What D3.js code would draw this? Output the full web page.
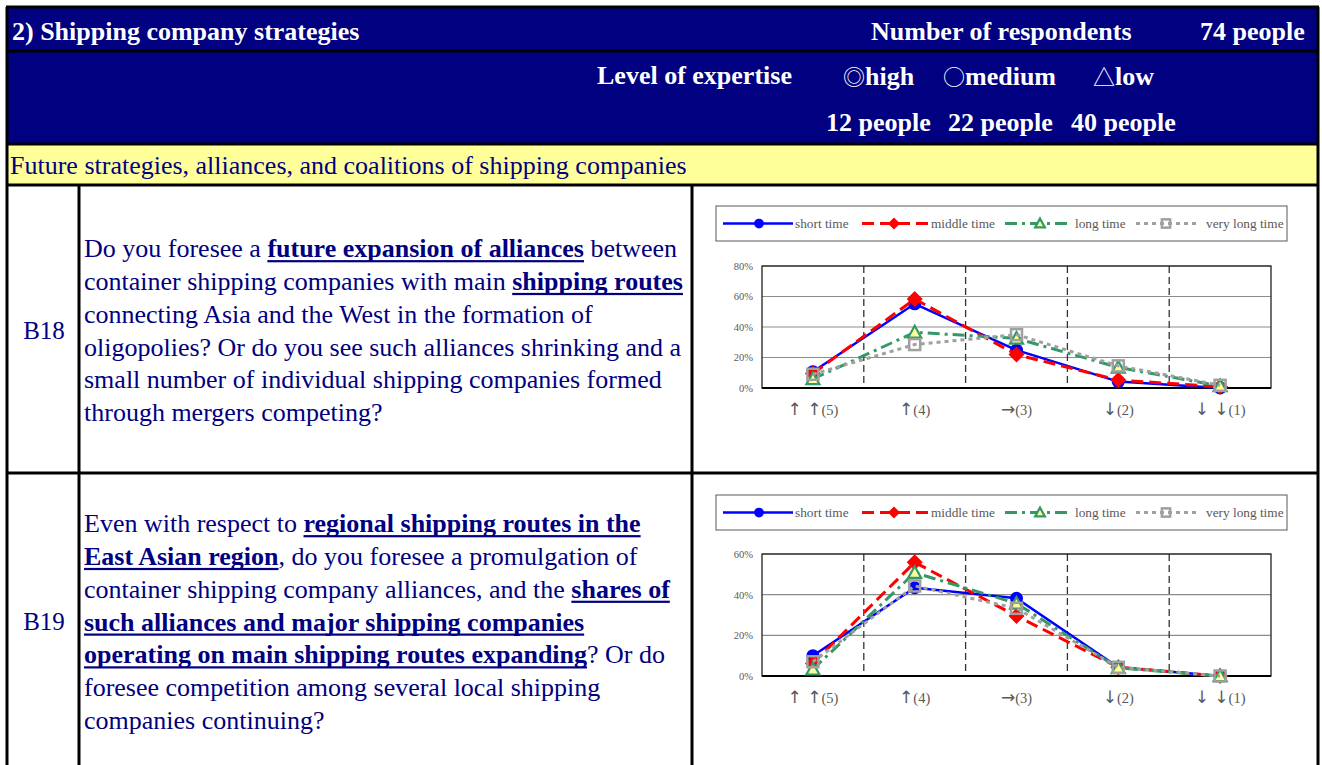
<!DOCTYPE html>
<html>
<head>
<meta charset="utf-8">
<title>Shipping company strategies</title>
<script src="https://d3js.org/d3.v7.min.js"></script>
<style>
body { margin: 0; background: #fff; }
svg text { font-family: "Liberation Serif", "Times New Roman", serif; }
.axis path, .axis line { display: none; }
.axis text { fill: #595959; font-family: "Liberation Serif", serif; }
.sym { font-family: "Noto Sans CJK JP", sans-serif; font-weight: normal; }
.arrow { font-family: "DejaVu Sans", sans-serif; fill: #595959; }
</style>
</head>
<body>
<div id="page"></div>
<script>
var W = 1322, H = 765;
var navy = "#000080", yellow = "#ffff99";

// categories / series
var categories = ["↑ ↑(5)", "↑(4)", "→(3)", "↓(2)", "↓ ↓(1)"];
var seriesNames = ["short time", "middle time", "long time", "very long time"];

// B18 (% of respondents)
var b18Short    = [10.7, 55.2, 24.8, 4.2, 0];
var b18Middle   = [9.5, 58.3, 21.9, 5.2, 0.8];
var b18Long     = [5.9, 36.5, 32.5, 13.5, 1.3];
var b18VeryLong = [9.0, 28.5, 35.0, 14.5, 1.8];

// B19 (% of respondents)
var b19Short    = [10.0, 43.4, 38.2, 4.3, 0];
var b19Middle   = [6.2, 55.9, 29.5, 4.3, 0];
var b19Long     = [3.3, 50.8, 35.7, 4.0, 0];
var b19VeryLong = [7.0, 44.3, 33.3, 4.3, 0];

// question texts, one entry per line, [text, bold]
var b18Lines = [
  [["Do you foresee a ", 0], ["future expansion of alliances", 1], [" between", 0]],
  [["container shipping companies with main ", 0], ["shipping routes", 1]],
  [["connecting Asia and the West in the formation of", 0]],
  [["oligopolies? Or do you see such alliances shrinking and a", 0]],
  [["small number of individual shipping companies formed", 0]],
  [["through mergers competing?", 0]]
];
var b19Lines = [
  [["Even with respect to ", 0], ["regional shipping routes in the", 1]],
  [["East Asian region", 1], [", do you foresee a promulgation of", 0]],
  [["container shipping company alliances, and the ", 0], ["shares of", 1]],
  [["such alliances and major shipping companies", 1]],
  [["operating on main shipping routes expanding", 1], ["? Or do", 0]],
  [["foresee competition among several local shipping", 0]],
  [["companies continuing?", 0]]
];

var styles = [
  {color: "#0000ff", width: 2.5, dash: null, symbol: "circle"},
  {color: "#ff0000", width: 3, dash: "12,6", symbol: "diamond"},
  {color: "#339966", width: 3, dash: "12,5,3,5", symbol: "triangle"},
  {color: "#a0a0a0", width: 3, dash: "4,4", symbol: "square"}
];

var svg = d3.select("#page").append("svg").attr("width", W).attr("height", H);

// table backgrounds
svg.append("rect").attr("x", 7).attr("y", 7).attr("width", 1311).attr("height", 137).attr("fill", navy);
svg.append("rect").attr("x", 7).attr("y", 144).attr("width", 1311).attr("height", 41).attr("fill", yellow);

// grid lines of the table
var hLines = [7, 51, 144, 185, 473];
hLines.forEach(function (y) {
  svg.append("line").attr("x1", 6).attr("x2", 1319).attr("y1", y).attr("y2", y)
    .attr("stroke", "#000").attr("stroke-width", 3);
});
[[7, 7], [1318, 7], [79, 185], [692, 185]].forEach(function (v) {
  svg.append("line").attr("x1", v[0]).attr("x2", v[0]).attr("y1", v[1]).attr("y2", H)
    .attr("stroke", "#000").attr("stroke-width", 3);
});

function label(txt, x, y, opt) {
  opt = opt || {};
  return svg.append("text").attr("x", x).attr("y", y).attr("dy", "0.35em")
    .attr("font-size", opt.size || 26)
    .attr("font-weight", opt.bold ? "bold" : "normal")
    .attr("fill", opt.fill || navy)
    .attr("text-anchor", opt.anchor || "start")
    .text(txt);
}

// header
var hd = {bold: 1, fill: "#fff", size: 26};
label("2) Shipping company strategies", 12, 31, hd);
label("Number of respondents", 871, 31, hd);
label("74 people", 1200, 31, hd);
label("Level of expertise", 597, 75, hd);
[["◎", "high", 843], ["○", "medium", 943], ["△", "low", 1093]].forEach(function (e) {
  var t = label("", e[2], 76, hd);
  t.append("tspan").attr("class", "sym").attr("font-size", 22).text(e[0]);
  t.append("tspan").text(e[1]);
});
label("12 people", 826, 122, hd);
label("22 people", 948, 122, hd);
label("40 people", 1071, 122, hd);
label("Future strategies, alliances, and coalitions of shipping companies", 10, 165, {size: 26});

label("B18", 44, 330, {size: 25, anchor: "middle"});
label("B19", 44, 621, {size: 25, anchor: "middle"});

function question(lines, y0) {
  var lh = 32.8;
  lines.forEach(function (segs, i) {
    var t = svg.append("text").attr("x", 84).attr("y", y0 + i * lh).attr("dy", "0.35em")
      .attr("font-size", 26).attr("fill", navy);
    segs.forEach(function (s) {
      var ts = t.append("tspan").attr("font-weight", s[1] ? "bold" : "normal").text(s[0]);
      if (s[1]) {
        var node = ts.node();
        var p = node.getStartPositionOfChar(0);
        var w = node.getComputedTextLength();
        svg.append("rect").attr("x", p.x).attr("y", p.y + 3).attr("width", w).attr("height", 2.2).attr("fill", navy);
      }
    });
  });
}
question(b18Lines, 248);
question(b19Lines, 523);

function marker(g, type, x, y, scale) {
  scale = scale || 1;
  if (type === "circle") {
    g.append("circle").attr("cx", x).attr("cy", y).attr("r", 6.5 * scale).attr("fill", styles[0].color);
  } else if (type === "diamond") {
    var r = 8 * scale;
    g.append("path").attr("d", "M" + x + "," + (y - r) + "L" + (x + r) + "," + y + "L" + x + "," + (y + r) + "L" + (x - r) + "," + y + "Z")
      .attr("fill", styles[1].color);
  } else if (type === "triangle") {
    var a = 6.5 * scale;
    g.append("path").attr("d", "M" + x + "," + (y - a) + "L" + (x + a) + "," + (y + a * 0.8) + "L" + (x - a) + "," + (y + a * 0.8) + "Z")
      .attr("fill", "#ffff99").attr("stroke", styles[2].color).attr("stroke-width", 2.2);
  } else {
    var h = 5.5 * scale;
    g.append("rect").attr("x", x - h).attr("y", y - h).attr("width", 2 * h).attr("height", 2 * h)
      .attr("fill", "none").attr("stroke", styles[3].color).attr("stroke-width", 2.5);
  }
}

function drawChart(seriesList, yMax, legendY, top, bottom) {
  var g = svg.append("g");
  var left = 762, right = 1271;

  // legend
  g.append("rect").attr("x", 716).attr("y", legendY).attr("width", 571).attr("height", 35)
    .attr("fill", "#fff").attr("stroke", "#595959").attr("stroke-width", 1);
  var legX = [[723, 793, 759, 795], [862, 928, 894, 931], [1005, 1072, 1040, 1075], [1136, 1200, 1166, 1206]];
  var ly = legendY + 17.5;
  seriesNames.forEach(function (name, i) {
    var st = styles[i], p = legX[i];
    g.append("line").attr("x1", p[0]).attr("x2", p[1]).attr("y1", ly).attr("y2", ly)
      .attr("stroke", st.color).attr("stroke-width", st.width).attr("stroke-dasharray", st.dash);
    marker(g, st.symbol, p[2], ly, 0.75);
    g.append("text").attr("x", p[3]).attr("y", ly).attr("dy", "0.35em").attr("font-size", 13.3)
      .attr("fill", "#595959").text(name);
  });

  var x = d3.scaleBand().domain(categories).range([left, right]);
  var y = d3.scaleLinear().domain([0, yMax]).range([bottom, top]);
  var ticks = d3.range(0, yMax + 1, 20);

  // horizontal grid
  g.selectAll(".grid").data(ticks).enter().append("line")
    .attr("x1", left).attr("x2", right).attr("y1", function (d) { return y(d); }).attr("y2", function (d) { return y(d); })
    .attr("stroke", "#8c8c8c").attr("stroke-width", 1.2);
  // vertical dashed separators
  g.selectAll(".sep").data(categories.slice(1)).enter().append("line")
    .attr("x1", function (d) { return x(d); }).attr("x2", function (d) { return x(d); })
    .attr("y1", top).attr("y2", bottom)
    .attr("stroke", "#333").attr("stroke-width", 1.3).attr("stroke-dasharray", "7,4");
  // plot frame
  g.append("rect").attr("x", left).attr("y", top).attr("width", right - left).attr("height", bottom - top)
    .attr("fill", "none").attr("stroke", "#222").attr("stroke-width", 1.3);
  g.append("line").attr("x1", left).attr("x2", right).attr("y1", bottom).attr("y2", bottom)
    .attr("stroke", "#000").attr("stroke-width", 2);

  g.append("g").attr("class", "axis").attr("transform", "translate(" + left + ",0)")
    .call(d3.axisLeft(y).tickValues(ticks).tickSize(0).tickPadding(9).tickFormat(function (d) { return d + "%"; }))
    .selectAll("text").attr("font-size", 10.5);
  var xa = g.append("g").attr("class", "axis").attr("transform", "translate(0," + bottom + ")")
    .call(d3.axisBottom(x).tickSize(0).tickPadding(17));
  // arrows in a plain glyph font, number in serif
  xa.selectAll("text").each(function (d) {
    var t = d3.select(this).text("").attr("font-size", 14.5);
    var k = d.indexOf("(");
    t.append("tspan").attr("class", "arrow").attr("font-size", 17).text(d.slice(0, k).replace(" ", "\u00a0"));
    t.append("tspan").text(d.slice(k));
  });

  var line = d3.line()
    .x(function (d, i) { return x(categories[i]) + x.bandwidth() / 2; })
    .y(function (d) { return y(d); });

  seriesList.forEach(function (vals, i) {
    var st = styles[i];
    g.append("path").datum(vals).attr("d", line).attr("fill", "none")
      .attr("stroke", st.color).attr("stroke-width", st.width).attr("stroke-dasharray", st.dash)
      .attr("stroke-linejoin", "round");
    vals.forEach(function (v, j) {
      marker(g, st.symbol, x(categories[j]) + x.bandwidth() / 2, y(v), 1);
    });
  });
}

drawChart([b18Short, b18Middle, b18Long, b18VeryLong], 80, 206, 266, 388);
drawChart([b19Short, b19Middle, b19Long, b19VeryLong], 60, 495, 554, 676);
</script>
</body>
</html>
